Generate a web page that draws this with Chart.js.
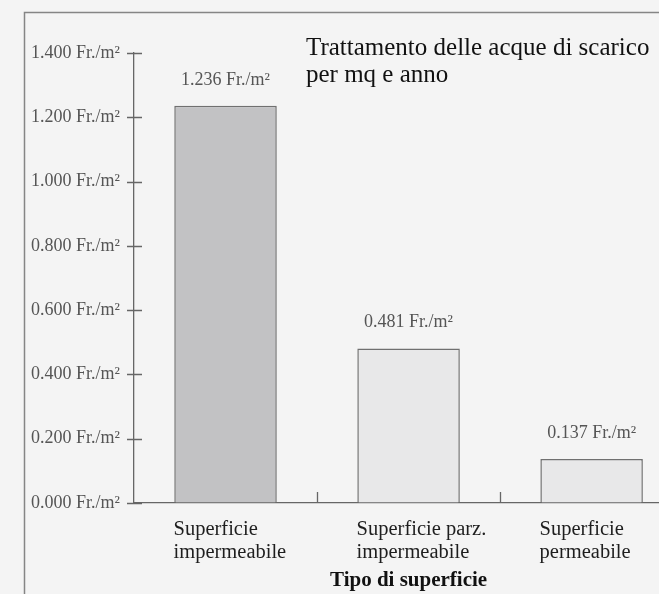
<!DOCTYPE html>
<html>
<head>
<meta charset="utf-8">
<script src="https://cdn.jsdelivr.net/npm/chart.js@4.4.1/dist/chart.umd.min.js"></script>
<style>
  html, body { margin: 0; padding: 0; background: #f4f4f4; overflow: hidden; width: 659px; height: 594px; }
  canvas { display: block; }
</style>
</head>
<body>
<canvas id="myChart" width="700" height="594"></canvas>
<script>
const categories = [['Superficie', 'impermeabile'], ['Superficie parz.', 'impermeabile'], ['Superficie', 'permeabile']];
const values = [1.236, 0.481, 0.137];
const barColors = ['#c2c2c4', '#e8e8e9', '#e8e8e9'];
const titleLines = ['Trattamento delle acque di scarico', 'per mq e anno'];
const axisTitle = 'Tipo di superficie';
const unit = ' Fr./m²';

const serif = "'Liberation Serif', 'Times New Roman', serif";

// frame, tick marks, value labels and the title drawn by hand
const extras = {
    id: 'extras',
    beforeDraw(chart) {
        const c = chart.ctx;
        c.save();
        c.strokeStyle = '#858585';
        c.lineWidth = 1.5;
        c.strokeRect(24.5, 12.5, 800, 700);
        c.restore();
    },
    afterDraw(chart) {
        const c = chart.ctx;
        const a = chart.chartArea;
        const x = chart.scales.x, y = chart.scales.y;
        c.save();
        c.strokeStyle = '#666';
        c.lineWidth = 1.3;
        c.beginPath();
        // y ticks crossing the axis
        y.ticks.forEach(t => {
            const py = Math.round(y.getPixelForValue(t.value)) + 0.5;
            c.moveTo(a.left - 7, py);
            c.lineTo(a.left + 8, py);
        });
        // x axis extends a bit left
        c.moveTo(a.left - 6, a.bottom + 0.5);
        c.lineTo(a.left, a.bottom + 0.5);
        // category separators
        for (let i = 0; i < categories.length - 1; i++) {
            const px = Math.round((x.getPixelForValue(i) + x.getPixelForValue(i + 1)) / 2) + 0.5;
            c.moveTo(px, a.bottom);
            c.lineTo(px, a.bottom - 11);
        }
        c.stroke();

        // value labels
        c.fillStyle = '#555';
        c.font = '18px ' + serif;
        c.textAlign = 'center';
        c.textBaseline = 'alphabetic';
        chart.getDatasetMeta(0).data.forEach((bar, i) => {
            c.fillText(values[i].toFixed(3) + unit, bar.x, bar.y - 21);
        });

        // title
        c.fillStyle = '#111';
        c.font = '25px ' + serif;
        c.textAlign = 'left';
        titleLines.forEach((line, i) => {
            c.fillText(line, 306, 55 + i * 27);
        });
        c.restore();
    }
};

const ctx = document.getElementById('myChart').getContext('2d');
const myChart = new Chart(ctx, {
    type: 'bar',
    data: {
        labels: categories,
        datasets: [{
            data: values,
            backgroundColor: barColors,
            borderColor: '#707070',
            borderWidth: 1.5,
            categoryPercentage: 1,
            barPercentage: 0.56
        }]
    },
    options: {
        responsive: false,
        animation: false,
        devicePixelRatio: 1,
        layout: { padding: { top: 53, right: 14, left: 0, bottom: 0 } },
        plugins: {
            legend: { display: false },
            tooltip: { enabled: false }
        },
        scales: {
            y: {
                min: 0,
                max: 1.4,
                ticks: {
                    stepSize: 0.2,
                    padding: 14,
                    color: '#555',
                    font: { family: serif, size: 18 },
                    callback: v => v.toFixed(3) + unit
                },
                grid: { drawOnChartArea: false, drawTicks: false },
                border: { color: '#666', width: 1.3 },
                afterFit: s => { s.width = 134; }
            },
            x: {
                ticks: {
                    align: 'start',
                    labelOffset: -52,
                    padding: 15,
                    color: '#1e1e1e',
                    font: { family: serif, size: 20.5, lineHeight: 1.12 }
                },
                grid: { drawOnChartArea: false, drawTicks: false },
                border: { color: '#666', width: 1.3 },
                title: {
                    display: true,
                    text: axisTitle,
                    color: '#111',
                    font: { family: serif, size: 21, weight: 'bold' },
                    padding: { top: 0, bottom: 1 }
                },
                afterFit: s => { s.height = 91; }
            }
        }
    },
    plugins: [extras]
});
</script>
</body>
</html>
